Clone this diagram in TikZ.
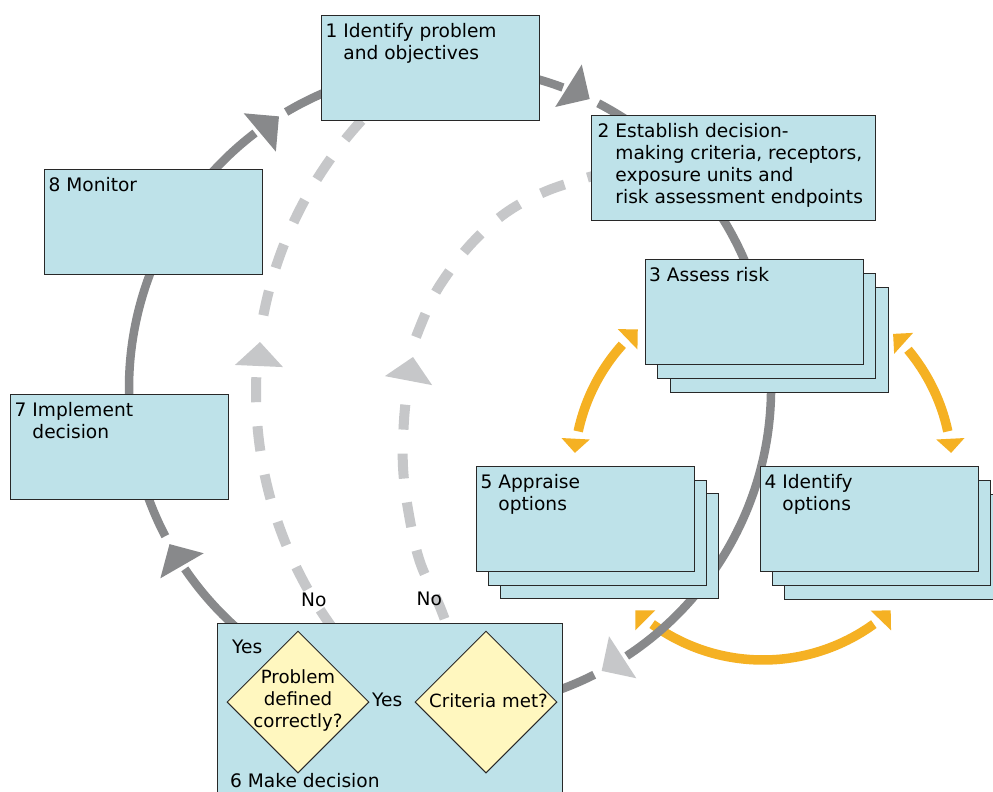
\documentclass[tikz,border=0pt]{standalone}
\usepackage{fontspec}
\setmainfont{DejaVu Sans}
\usetikzlibrary{shapes.geometric}
\definecolor{boxfill}{RGB}{190,226,233}
\definecolor{boxline}{RGB}{40,40,40}
\definecolor{dgray}{RGB}{136,137,139}
\definecolor{lgray}{RGB}{198,199,201}
\definecolor{orng}{RGB}{245,177,35}
\definecolor{dfill}{RGB}{255,247,191}
\newcommand{\diagfont}{\fontsize{18.6}{22}\selectfont}
\newcommand{\diafont}{\fontsize{18.2}{22}\selectfont}
\newcommand{\steptxt}[2]{#1\ \begin{tabular}[t]{@{}l@{}}#2\end{tabular}}
% arrowhead: tip coordinate, direction (image angle), half-diagonal, colour
\newcommand{\headat}[4]{\fill[#4] (#1) -- +(#2+135:#3) -- +(#2+225:#3) -- cycle;}
\begin{document}
\begin{tikzpicture}[x=1pt,y=-1pt,font=\diagfont,
  box/.style={draw=boxline,fill=boxfill,line width=1pt,anchor=north west,inner sep=0pt,minimum width=218pt,minimum height=105pt},
  btxt/.style={anchor=north west,inner xsep=4.5pt,inner ysep=7.2pt},
  dia/.style={diamond,draw=boxline,fill=dfill,line width=1pt,minimum width=142pt,minimum height=142pt,inner sep=0pt},
  loopline/.style={draw=dgray,line width=8.5pt},
  dashline/.style={draw=lgray,line width=10pt,dash pattern=on 25pt off 24pt},
  oline/.style={draw=orng,line width=9.5pt},
  plain/.style={inner sep=0pt}
]
\useasboundingbox (0,0) rectangle (993,792);
\fill[white] (0,0) rectangle (993,792);
\clip (0,0) rectangle (993,792);

\coordinate (G) at (450,388);
\coordinate (D) at (658,392);
\coordinate (O) at (763,471);

% arrowhead tips
\coordinate (ha1) at ([shift={(237.8:321)}]G);
\coordinate (ha2) at ([shift={(295.8:321)}]G);
\coordinate (ha4) at ([shift={(61.8:321)}]G);
\coordinate (ha3) at ([shift={(150.9:321)}]G);
\coordinate (hd1) at (260,342);
\coordinate (hd2) at (413,357);
\coordinate (ho1) at ([shift={(185.5:189)}]O);
\coordinate (ho2) at ([shift={(228.5:189)}]O);
\coordinate (ho3) at ([shift={(313.5:189)}]O);
\coordinate (ho4) at ([shift={(354.5:189)}]O);
\coordinate (ho5) at ([shift={(47.5:189)}]O);
\coordinate (ho6) at ([shift={(132.5:189)}]O);

% dashed feedback loops
\draw[dashline,dash phase=37.6pt] ([shift={(142:402)}]D) arc[start angle=142,end angle=183.3,radius=402];
\draw[dashline] ([shift={(191:402)}]D) arc[start angle=191,end angle=226,radius=402];
\headat{hd1}{272.5}{34}{lgray}
\draw[dashline,dash phase=26.5pt] plot[smooth,tension=0.6] coordinates {(452,640) (440,607) (420,562) (409,515) (403,467) (404,420) (408,382)};
\draw[dashline] plot[smooth,tension=0.6] coordinates {(416,337) (428,308) (442,282) (471,244) (507,212) (549,190) (600,174)};
\headat{hd2}{280.8}{34}{lgray}

% orange double arrows
\draw[oline] ([shift={(192.1:189)}]O) arc[start angle=192.1,end angle=221.9,radius=189];
\draw[oline] ([shift={(320.1:189)}]O) arc[start angle=320.1,end angle=347.9,radius=189];
\draw[oline] ([shift={(54.1:189)}]O) arc[start angle=54.1,end angle=125.9,radius=189];
\headat{ho1}{93}{20}{orng}
\headat{ho2}{316}{20}{orng}
\headat{ho3}{222}{20}{orng}
\headat{ho4}{87}{20}{orng}
\headat{ho5}{314}{20}{orng}
\headat{ho6}{225}{20}{orng}

% main cycle
\draw[loopline] ([shift={(152.5:321)}]G) arc[start angle=152.5,end angle=232.6,radius=321];
\draw[loopline] ([shift={(239.3:321)}]G) arc[start angle=239.3,end angle=290.6,radius=321];
\draw[loopline] ([shift={(297.5:321)}]G) arc[start angle=297.5,end angle=416.6,radius=321];
\draw[loopline] ([shift={(423.3:321)}]G) arc[start angle=423.3,end angle=505.7,radius=321];
\headat{ha1}{320}{35.4}{dgray}
\headat{ha2}{32}{35.4}{dgray}
\headat{ha4}{147}{35.4}{lgray}
\headat{ha3}{240}{35.4}{dgray}

% boxes
\node[box,label={[btxt]north west:\steptxt{8}{Monitor}}] (b8) at (44,169) {};
\node[box,label={[btxt]north west:\steptxt{7}{Implement\\decision}}] (b7) at (10,394) {};
\node[box,label={[btxt]north west:\steptxt{1}{Identify problem\\and objectives}}] (b1) at (321,15) {};
\node[box,minimum width=284pt,label={[btxt,inner xsep=6.5pt]north west:\steptxt{2}{Establish decision-\\making criteria, receptors,\\exposure units and\\risk assessment endpoints}}] (b2) at (591,115) {};

\node[box] (b3c) at (669.5,287) {};
\node[box] (b3b) at (657,273) {};
\node[box,label={[btxt]north west:\steptxt{3}{Assess risk}}] (b3) at (644.5,259) {};

\node[box] (b5c) at (500,493) {};
\node[box] (b5b) at (488,479.5) {};
\node[box,label={[btxt]north west:\steptxt{5}{Appraise\\options}}] (b5) at (476,466) {};

\node[box] (b4c) at (784,494) {};
\node[box] (b4b) at (772,480) {};
\node[box,label={[btxt]north west:\steptxt{4}{Identify\\options}}] (b4) at (760,466) {};

\node[box,minimum width=345pt,minimum height=200pt] (b6) at (217,623) {};
\node[dia] (d1) at (298,702) {};
\node[dia] (d2) at (486,702) {};
\node[plain,align=center,font=\diafont] (t1) at (298,700) {Problem\\defined\\correctly?};
\node[plain,anchor=base,font=\diafont] (t2) at (488.5,707.7) {Criteria met?};
\node[plain,anchor=base west] (yes1) at (232,653) {Yes};
\node[plain,anchor=base west] (yes2) at (372,706.7) {Yes};
\node[plain,anchor=base west] (t6) at (230,787) {6 Make decision};
\node[plain,anchor=base west] (no1) at (301,606.7) {No};
\node[plain,anchor=base west] (no2) at (416.5,605) {No};
\end{tikzpicture}
\end{document}
